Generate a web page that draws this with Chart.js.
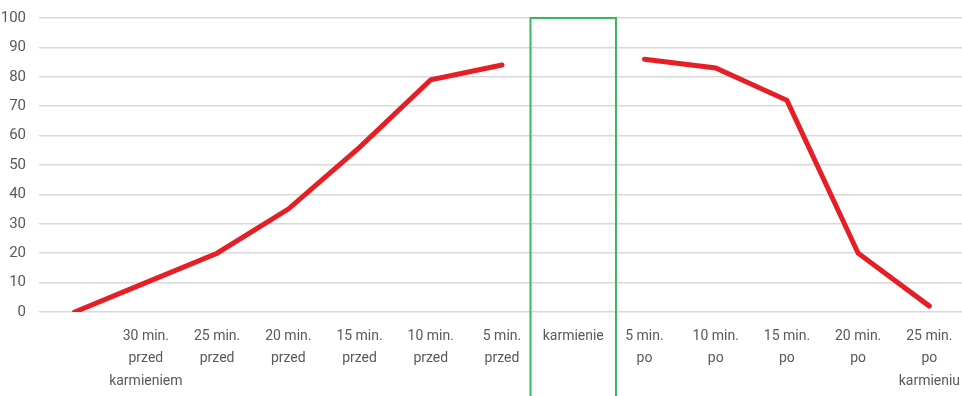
<!DOCTYPE html>
<html>
<head>
<meta charset="utf-8">
<script src="https://cdn.jsdelivr.net/npm/chart.js@4/dist/chart.umd.min.js"></script>
<style>
  html, body { margin: 0; padding: 0; background: #fff; overflow: hidden; }
  #wrap { width: 965px; height: 396px; }
</style>
</head>
<body>
<div id="wrap"><canvas id="chart_karmienie"></canvas></div>
<script>
// osie i dane
const kategorie = [
    '',
    ['30 min.', 'przed', 'karmieniem'],
    ['25 min.', 'przed'],
    ['20 min.', 'przed'],
    ['15 min.', 'przed'],
    ['10 min.', 'przed'],
    ['5 min.', 'przed'],
    'karmienie',
    ['5 min.', 'po'],
    ['10 min.', 'po'],
    ['15 min.', 'po'],
    ['20 min.', 'po'],
    ['25 min.', 'po', 'karmieniu']
];
const wartosci = [0, 10, 20, 35, 56, 79, 84, null, 86, 83, 72, 20, 2];
const indeksKarmienia = 7;
const osY = { min: 0, max: 100, krok: 10 };

const szary = '#595959';
const czcionka = "'Liberation Sans Narrow', 'Arial Narrow', 'Roboto', sans-serif";

/* --- ramka wokół "karmienie" --- */
const ramkaKarmienie = {
    id: 'ramkaKarmienie',
    afterDatasetsDraw(chart) {
        const x = chart.scales.x;
        const y = chart.scales.y;
        const krok = (x.right - x.left) / kategorie.length;
        const srodek = x.getPixelForValue(indeksKarmienia);
        const lewo = srodek - krok * 0.6;
        const prawo = srodek + krok * 0.6;
        const gora = y.getPixelForValue(osY.max);
        const ctx = chart.ctx;
        ctx.save();
        ctx.strokeStyle = '#3cb65a';
        ctx.lineWidth = 2;
        ctx.beginPath();
        ctx.moveTo(lewo, chart.height + 5);
        ctx.lineTo(lewo, gora);
        ctx.lineTo(prawo, gora);
        ctx.lineTo(prawo, chart.height + 5);
        ctx.stroke();
        ctx.restore();
    }
};

new Chart(document.getElementById('chart_karmienie'), {
    type: 'line',
    data: {
        labels: kategorie,
        datasets: [
            {
                data: wartosci,
                borderColor: '#e51f25',
                borderWidth: 5,
                borderCapStyle: 'round',
                borderJoinStyle: 'miter',
                pointRadius: 0,
                tension: 0,
                spanGaps: false
            }
        ]
    },
    options: {
        responsive: true,
        maintainAspectRatio: false,
        animation: false,
        layout: { padding: 0 },
        plugins: {
            legend: { display: false },
            tooltip: { enabled: false }
        },
        scales: {
            x: {
                offset: true,
                grid: { display: false, drawTicks: false },
                border: { display: false },
                ticks: {
                    color: szary,
                    font: { family: czcionka, size: 14, lineHeight: 1.6 },
                    padding: 13,
                    maxRotation: 0,
                    autoSkip: false
                },
                afterFit(scale) {
                    scale.height = 84;
                    scale.paddingLeft = 0;
                    scale.paddingRight = 0;
                }
            },
            y: {
                min: osY.min,
                max: osY.max,
                grid: { color: '#d9d9d9', lineWidth: 1.5, drawTicks: false },
                border: { display: false },
                ticks: {
                    stepSize: osY.krok,
                    color: szary,
                    font: { family: czcionka, size: 15 },
                    padding: 13
                },
                afterFit(scale) {
                    scale.width = 39;
                    scale.paddingTop = 18;
                    scale.paddingBottom = 0;
                }
            }
        }
    },
    plugins: [ramkaKarmienie]
});
</script>
</body>
</html>
